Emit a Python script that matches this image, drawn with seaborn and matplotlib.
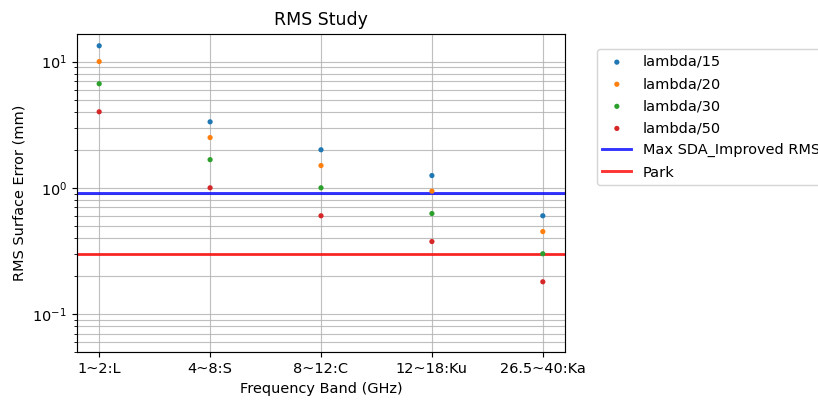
import matplotlib
matplotlib.use("Agg")
import matplotlib.pyplot as plt
import seaborn as sns
import pandas as pd

bands = ["1~2:L", "4~8:S", "8~12:C", "12~18:Ku", "26.5~40:Ka"]
rms_l15 = [13.33, 3.33, 2.0, 1.25, 0.60]
rms_l20 = [10.0, 2.5, 1.5, 0.94, 0.45]
rms_l30 = [6.67, 1.67, 1.0, 0.625, 0.30]
rms_l50 = [4.0, 1.0, 0.6, 0.375, 0.18]
series_labels = ["lambda/15", "lambda/20", "lambda/30", "lambda/50"]
max_sda_rms = 0.905
park_rms = 0.30

DPI = 104
fig = plt.figure(figsize=(818 / DPI, 401 / DPI), dpi=DPI)
ax = fig.add_axes([77 / 818, 1 - 352 / 401, (565 - 77) / 818, (352 - 34) / 401])

palette = sns.color_palette("tab10")
for vals, lab, col in zip([rms_l15, rms_l20, rms_l30, rms_l50], series_labels, palette):
    df = pd.DataFrame({"band": bands, "rms": vals})
    sns.scatterplot(data=df, x="band", y="rms", ax=ax, color=col, marker="o",
                    s=13, edgecolor="none", label=lab, zorder=3)

ax.axhline(max_sda_rms, color="blue", alpha=0.8, lw=2, label="Max SDA_Improved RMS")
ax.axhline(park_rms, color="red", alpha=0.8, lw=2, label="Park")

ax.set_yscale("log")
ax.margins(x=0.05)
ax.set_ylim(bottom=0.05)
ax.grid(True, which="both", color="#b0b0b0", lw=0.8, alpha=0.8)
ax.set_axisbelow(True)
ax.set_title("RMS Study")
ax.set_xlabel("Frequency Band (GHz)")
ax.set_ylabel("RMS Surface Error (mm)")
ax.legend(loc="upper left", bbox_to_anchor=(1.05, 0.975), labelspacing=0.56)

fig.savefig("out.png", dpi=DPI)
